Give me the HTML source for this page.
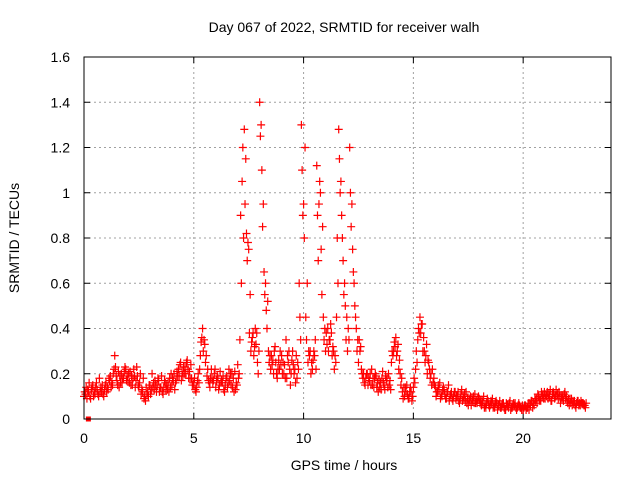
<!DOCTYPE html>
<html><head><meta charset="utf-8"><style>
body{margin:0;background:#fff}
svg{display:block;font-family:"Liberation Sans",sans-serif}
</style></head><body>
<svg id="chart" width="640" height="480" viewBox="0 0 640 480">
<rect width="640" height="480" fill="#fff"/>
<text x="344" y="32" font-size="14" text-anchor="middle">Day 067 of 2022, SRMTID for receiver walh</text>
<text x="344" y="470" font-size="14" text-anchor="middle">GPS time / hours</text>
<text transform="translate(19,238) rotate(-90)" font-size="14" text-anchor="middle">SRMTID / TECUs</text>
<g id="grid"></g><g id="ticks"></g><g id="marks"></g>
<rect x="84" y="57" width="527" height="362" fill="none" stroke="#000" stroke-width="1"/>
</svg>
<script>
const xTicks=[0,5,10,15,20];
const yTicks=[0,0.2,0.4,0.6,0.8,1,1.2,1.4,1.6];
const yTickLabels=["0","0.2","0.4","0.6","0.8","1","1.2","1.4","1.6"];
const timeStep=0.1;
const seriesA=[.10,.14,.12,.09,.15,.11,.13,.18,.12,.10,
.16,.13,.19,.15,.28,.17,.14,.20,.18,.22,
.17,.21,.15,.19,.23,.14,.11,.18,.08,.12,
.15,.20,.13,.12,.17,.14,.11,.16,.13,.18,
.15,.20,.17,.22,.25,.19,.23,.26,.21,.18,
.15,.12,.20,.28,.40,.33,.19,.16,.22,.17,
.14,.18,.21,.16,.12,.19,.22,.15,.18,.13,
.24,.35,1.05,1.28,.82,.75,.30,.38,.40,.25,
1.40,1.10,.65,.48,.30,.22,.26,.32,.18,.22,
.28,.20,.35,.25,.15,.30,.22,.18,.60,1.30,
.95,.45,.25,.30,.22,.28,1.12,.95,.75,.45,
.30,.40,.35,.28,.22,.45,1.28,1.05,.70,.50,
.30,1.20,.95,.60,.40,.25,.32,.18,.15,.20,
.17,.22,.14,.19,.12,.16,.21,.13,.18,.15,
.25,.30,.36,.33,.20,.12,.10,.15,.09,.12,
.14,.22,.35,.45,.42,.30,.33,.25,.20,.16,
.14,.12,.16,.10,.13,.09,.15,.11,.08,.12,
.10,.07,.13,.09,.12,.06,.10,.08,.11,.07,
.09,.06,.10,.05,.08,.06,.09,.05,.07,.06,
.05,.07,.04,.06,.08,.05,.06,.04,.07,.05,
.04,.06,.05,.07,.08,.06,.09,.10,.08,.11,
.09,.12,.10,.08,.11,.13,.09,.07,.10,.12,
.08,.06,.09,.07,.05,.08,.06,.07,.06];
const seriesB=[.12,.09,.16,.13,.10,.14,.11,.12,.15,.13,
.12,.18,.14,.20,.23,.15,.19,.16,.21,.17,
.20,.15,.18,.14,.19,.16,.13,.09,.14,.10,
.11,.14,.17,.15,.12,.19,.14,.13,.16,.14,
.18,.13,.21,.19,.17,.23,.20,.22,.18,.15,
.18,.14,.16,.34,.30,.25,.22,.14,.18,.20,
.17,.13,.16,.19,.15,.14,.17,.20,.12,.16,
.18,.90,1.20,.95,.70,.38,.34,.28,.33,.20,
1.25,.85,.55,.40,.25,.28,.20,.25,.22,.30,
.20,.24,.18,.30,.20,.24,.16,.25,.45,1.10,
.80,.35,.30,.20,.26,.35,.90,1.05,.55,.35,
.38,.30,.42,.32,.28,.80,1.15,.90,.55,.35,
.40,1.00,.75,.50,.30,.35,.22,.20,.18,.15,
.20,.15,.18,.14,.17,.13,.16,.19,.14,.17,
.30,.34,.28,.22,.15,.09,.14,.11,.12,.08,
.18,.30,.40,.38,.30,.25,.20,.22,.15,.18,
.10,.15,.09,.13,.11,.12,.08,.12,.10,.09,
.12,.09,.08,.11,.07,.09,.06,.10,.07,.09,
.07,.08,.05,.07,.06,.08,.05,.07,.04,.08,
.06,.05,.07,.05,.04,.06,.07,.05,.06,.04,
.05,.04,.07,.06,.05,.09,.07,.08,.12,.09,
.11,.09,.13,.11,.09,.10,.12,.10,.08,.09,
.07,.09,.06,.08,.07,.06,.08,.07,.05];
const seriesC=[.11,.13,.10,.14,.12,.16,.10,.14,.11,.15,
.14,.17,.16,.22,.19,.21,.16,.18,.23,.19,
.16,.19,.22,.17,.15,.20,.12,.10,.11,.15,
.13,.16,.15,.18,.14,.12,.17,.15,.12,.20,
.17,.16,.19,.24,.21,.20,.25,.18,.24,.16,
.13,.17,.22,.36,.35,.28,.17,.18,.16,.22,
.19,.15,.17,.13,.18,.16,.20,.14,.21,.15,
.20,.60,.80,1.15,.78,.55,.36,.32,.38,.30,
1.30,.95,.60,.52,.28,.24,.30,.20,.26,.24,
.25,.18,.28,.22,.26,.20,.28,.22,.35,.90,
1.20,.60,.28,.25,.30,.22,.70,1.00,.85,.40,
.33,.35,.38,.30,.25,.60,1.00,.80,.60,.45,
.35,.85,.65,.45,.35,.30,.20,.16,.20,.18,
.15,.18,.20,.16,.14,.18,.15,.17,.20,.13,
.28,.32,.30,.26,.18,.14,.12,.09,.14,.10,
.16,.25,.38,.42,.36,.28,.26,.18,.22,.15,
.12,.13,.11,.14,.09,.12,.10,.09,.12,.10,
.08,.11,.10,.08,.09,.08,.09,.07,.08,.10,
.08,.07,.06,.09,.05,.07,.06,.08,.06,.05,
.07,.04,.06,.07,.05,.07,.05,.06,.05,.06,
.06,.05,.04,.08,.07,.08,.11,.09,.10,.12,
.10,.11,.08,.12,.10,.11,.10,.09,.11,.10,
.09,.07,.08,.06,.08,.07,.07,.06,.07];
const NS="http://www.w3.org/2000/svg";
const X0=84,X1=611,Y0=419,Y1=57;
function xs(t){return X0+(t/24)*(X1-X0);}
function ys(v){return Y0-(v/1.6)*(Y0-Y1);}
function mk(tag,attrs,parent){const e=document.createElementNS(NS,tag);for(const k in attrs)e.setAttribute(k,attrs[k]);parent.appendChild(e);return e;}
const grid=document.getElementById('grid'),ticks=document.getElementById('ticks'),marks=document.getElementById('marks');
yTicks.forEach((v,i)=>{
 const y=ys(v);
 if(i>0&&i<yTicks.length-1){const g=mk('line',{x1:X0,x2:X1,y1:y,y2:y,stroke:'#a0a0a0','stroke-dasharray':'2,3'},grid);
 
 }
 mk('line',{x1:X0,x2:X0+6,y1:y,y2:y,stroke:'#000'},ticks);
 mk('line',{x1:X1,x2:X1-6,y1:y,y2:y,stroke:'#000'},ticks);
 const t=mk('text',{x:70,y:y+5,'font-size':14,'text-anchor':'end'},ticks);t.textContent=yTickLabels[i];
 
 
});
xTicks.forEach(v=>{
 const x=xs(v);
 if(v>0){const g=mk('line',{x1:x,x2:x,y1:Y0,y2:Y1,stroke:'#a0a0a0','stroke-dasharray':'2,3'},grid);
 
 }
 mk('line',{x1:x,x2:x,y1:Y0,y2:Y0-6,stroke:'#000'},ticks);
 mk('line',{x1:x,x2:x,y1:Y1,y2:Y1+6,stroke:'#000'},ticks);
 const t=mk('text',{x:x,y:443,'font-size':14,'text-anchor':'middle'},ticks);t.textContent=String(v);
 
 
});
function plus(t,v,name){
 const x=xs(t),y=ys(v);
 const p=mk('path',{d:`M${x-4},${y}h8M${x},${y-4}v8`,stroke:'#f00','stroke-width':1.2},marks);
 
 
}
seriesA.forEach((v,i)=>plus(i*timeStep,v,'srmtid-point-a'));
seriesB.forEach((v,i)=>plus(i*timeStep+timeStep/3,v,'srmtid-point-b'));
seriesC.forEach((v,i)=>plus(i*timeStep+2*timeStep/3,v,'srmtid-point-c'));
const z=mk('rect',{x:xs(0.2)-2.5,y:Y0-2.5,width:5,height:5,fill:'#f00'},marks);


</script>
</body></html>
